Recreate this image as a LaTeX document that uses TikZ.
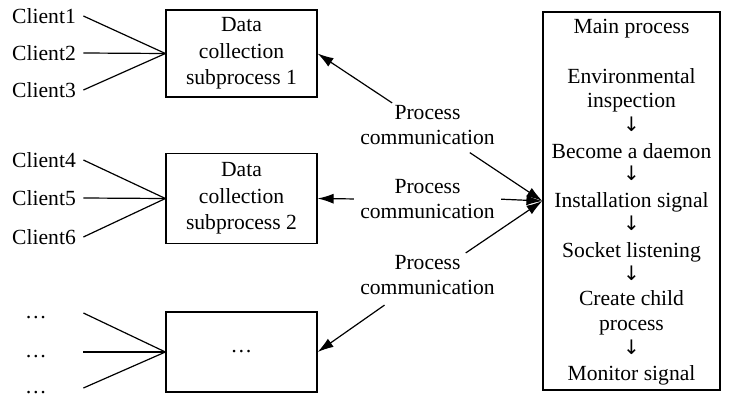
\documentclass[tikz,border=0pt]{standalone}
\usepackage{fontspec}
\setmainfont{Liberation Serif}
\newfontfamily\arrowfont{DejaVu Sans}
\usetikzlibrary{arrows.meta}
\begin{document}
\begin{tikzpicture}[x=0.5pt, y=-0.5pt,
    font=\fontsize{10.8}{13.25}\selectfont,
    sub/.style={draw, line width=0.6pt, minimum width=75.5pt, align=center},
    comm/.style={align=center, inner sep=1pt, font=\fontsize{10.8}{12.5}\selectfont},
    client/.style={minimum width=39pt},
    more/.style={minimum width=47pt},
    link/.style={line width=0.6pt},
    arr/.style={line width=0.6pt, -{Latex[length=8pt, width=5pt]}}]
    \useasboundingbox (0,0) rectangle (732,396);

    % Processo principal
    \node[draw, line width=0.6pt, minimum width=88.5pt, minimum height=189pt] (main) at (631.5,201) {};
    \foreach \t/\y [count=\i] in {Main process/33, Environmental/83, inspection/107.4,
        {\arrowfont\fontsize{10}{11}\selectfont ↓}/131.2, Become a daemon/158,
        {\arrowfont\fontsize{10}{11}\selectfont ↓}/180.8, Installation signal/207.6,
        {\arrowfont\fontsize{10}{11}\selectfont ↓}/230.4, Socket listening/257.2,
        {\arrowfont\fontsize{10}{11}\selectfont ↓}/280, Create child/305.8, process/330.6,
        {\arrowfont\fontsize{10}{11}\selectfont ↓}/354.4, Monitor signal/380.2}
        \node[anchor=base, inner sep=0pt] (st\i) at (631.5,\y) {\t};

    % Subprocessos
    \node[sub, minimum height=43.5pt] (sub1) at (241.5,53.5) {Data\\collection\\subprocess 1};
    \node[sub, minimum height=45pt] (sub2) at (241.5,198.5) {Data\\collection\\subprocess 2};
    \node[sub, minimum height=40pt] (sub3) at (241.5,352) {\dots};

    % Clientes
    \node[client] (c1) at (44,16) {Client1};
    \node[client] (c2) at (44,53) {Client2};
    \node[client] (c3) at (44,90) {Client3};
    \node[client] (c4) at (44,160) {Client4};
    \node[client] (c5) at (44,198) {Client5};
    \node[client] (c6) at (44,237) {Client6};
    \node[more] (c7) at (36,313) {\strut\dots};
    \node[more] (c8) at (36,352) {\strut\dots};
    \node[more] (c9) at (36,388) {\strut\dots};
    \foreach \c in {c1,c2,c3} \draw[link] (\c.east) -- (sub1.west);
    \foreach \c in {c4,c5,c6} \draw[link] (\c.east) -- (sub2.west);
    \foreach \c in {c7,c8,c9} \draw[link] (\c.east) -- (sub3.west);

    % Comunicação entre processos
    \node[comm] (pc1) at (427.5,125) {Process\\communication};
    \node[comm] (pc2) at (427.5,199) {Process\\communication};
    \node[comm] (pc3) at (427.5,275) {Process\\communication};
    \draw[arr] (pc1.148) -- (sub1.east);
    \draw[arr, shorten <=5pt] (pc1.-33) -- (main.west);
    \draw[arr, shorten <=2pt] (pc2.west) -- (sub2.east);
    \draw[arr, shorten <=2pt] (pc2.east) -- (main.west);
    \draw[arr] (pc3.30) -- (main.west);
    \draw[arr, shorten <=7pt] (pc3.215) -- (sub3.east);
\end{tikzpicture}
\end{document}
